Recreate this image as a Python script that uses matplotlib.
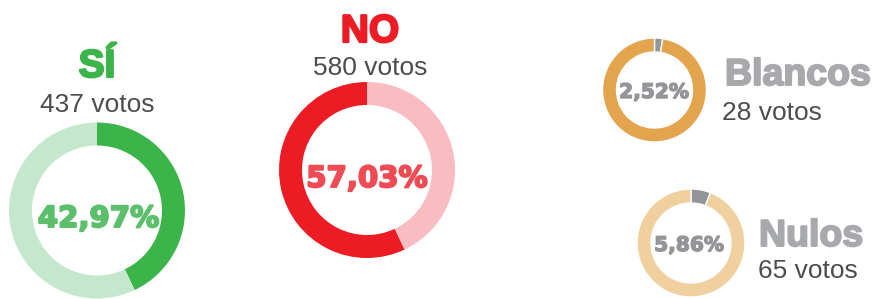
import matplotlib
matplotlib.use("Agg")
import matplotlib.pyplot as plt
import matplotlib.patheffects as pe

# data
labels = ["SÍ", "NO", "Blancos", "Nulos"]
votos = [437, 580, 28, 65]
pct = [42.97, 57.03, 2.52, 5.86]

W, H = 880, 299

fig = plt.figure(figsize=(W / 100, H / 100), dpi=100)
ax = fig.add_axes([0, 0, 1, 1])


def fmt(p):
    return f"{p:.2f}".replace(".", ",") + "%"


def donut(cx, cy, r, width, values, colors, counterclock=False, edge=None):
    ax.pie(values, colors=colors, center=(cx, H - cy), radius=r,
           startangle=90, counterclock=counterclock,
           wedgeprops=dict(width=width, linewidth=1 if edge else 0,
                           edgecolor=edge if edge else "none"))


def heavy(color, lw):
    # thicken the bold glyphs a little, the original uses a black weight
    return [pe.withStroke(linewidth=lw, foreground=color)]


# SÍ
donut(97, 210.5, 88, 23, [pct[0], 100 - pct[0]], ["#3bb54a", "#c5e8cc"])
# NO (red grows counter-clockwise from the top)
donut(367, 170, 88, 23, [pct[1], 100 - pct[1]], ["#ed1c24", "#f9bcc0"],
      counterclock=True)
# Blancos
donut(654.5, 90, 52, 14, [pct[2], 100 - pct[2]], ["#939598", "#e2a54e"],
      edge="white")
# Nulos
donut(691, 243, 54, 14, [pct[3], 100 - pct[3]], ["#939598", "#f0d09e"],
      edge="white")

title_font = "Liberation Sans"
pct_font = "DejaVu Sans"

# headers
ax.text(97, H - 77, labels[0], ha="center", va="baseline", fontsize=28,
        fontweight="bold", color="#3bb54a", family=title_font,
        path_effects=heavy("#3bb54a", 1.6))
ax.text(97, H - 112, f"{votos[0]} votos", ha="center", va="baseline",
        fontsize=19, color="#4d4d4f", family=title_font)

ax.text(370, H - 42, labels[1], ha="center", va="baseline", fontsize=28,
        fontweight="bold", color="#ed1c24", family=title_font,
        path_effects=heavy("#ed1c24", 1.6))
ax.text(370, H - 75, f"{votos[1]} votos", ha="center", va="baseline",
        fontsize=19, color="#4d4d4f", family=title_font)

ax.text(725, H - 85, labels[2], ha="left", va="baseline", fontsize=27,
        fontweight="bold", color="#a7a9ac", family=title_font,
        path_effects=heavy("#a7a9ac", 1.4))
ax.text(722, H - 120, f"{votos[2]} votos", ha="left", va="baseline",
        fontsize=19, color="#4d4d4f", family=title_font)

ax.text(759, H - 246, labels[3], ha="left", va="baseline", fontsize=27,
        fontweight="bold", color="#a7a9ac", family=title_font,
        path_effects=heavy("#a7a9ac", 1.4))
ax.text(758, H - 278, f"{votos[3]} votos", ha="left", va="baseline",
        fontsize=19, color="#4d4d4f", family=title_font)

# percentages in the middle of each ring
ax.text(98.5, H - 227, fmt(pct[0]), ha="center", va="baseline", fontsize=21,
        fontweight="bold", color="#5cbf6b", family=pct_font,
        path_effects=heavy("#5cbf6b", 1.4))
ax.text(367, H - 187, fmt(pct[1]), ha="center", va="baseline", fontsize=21,
        fontweight="bold", color="#ef4b55", family=pct_font,
        path_effects=heavy("#ef4b55", 1.4))
ax.text(654, H - 98, fmt(pct[2]), ha="center", va="baseline", fontsize=14.5,
        fontweight="bold", color="#939598", family=pct_font,
        path_effects=heavy("#939598", 1.0))
ax.text(689, H - 251, fmt(pct[3]), ha="center", va="baseline", fontsize=14.5,
        fontweight="bold", color="#939598", family=pct_font,
        path_effects=heavy("#939598", 1.0))

ax.set_xlim(0, W)
ax.set_ylim(0, H)
ax.set_aspect("auto")
ax.axis("off")

fig.savefig("out.png", dpi=100, facecolor="white")
